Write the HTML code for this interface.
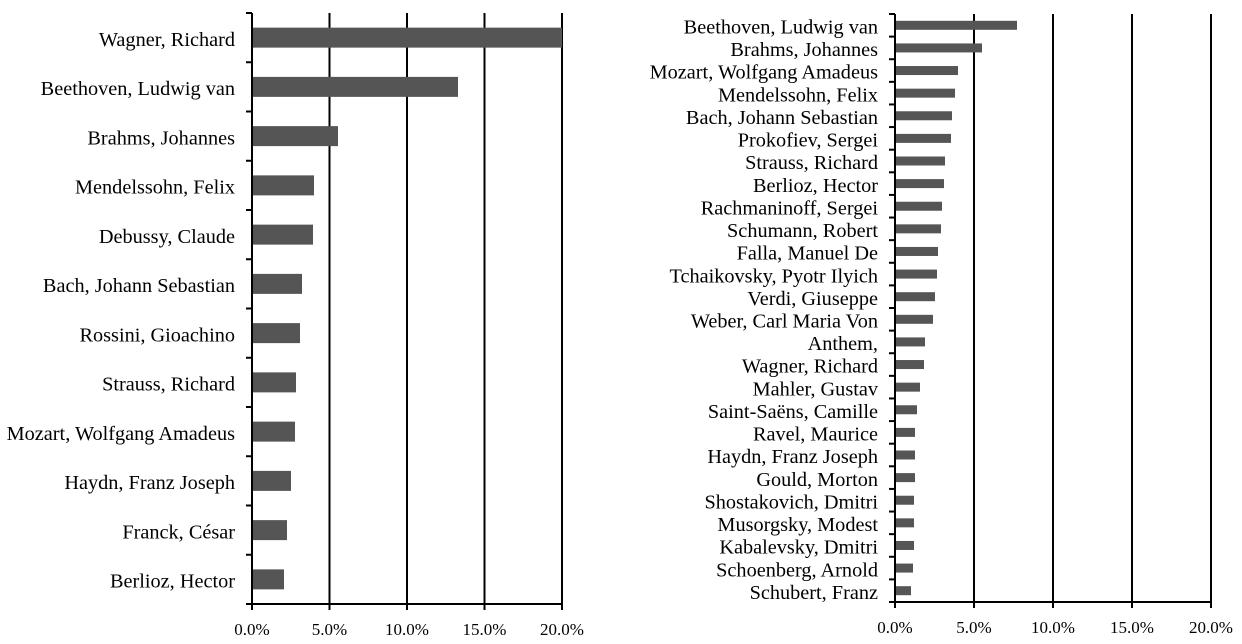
<!DOCTYPE html>
<html><head><meta charset="utf-8"><style>
html,body{margin:0;padding:0;background:#fff}
svg{display:block}
text{font-family:"Liberation Serif",serif;fill:#000}
</style></head><body>
<svg width="1242" height="644" xmlns="http://www.w3.org/2000/svg">
<g id="L"></g><g id="R"></g>
</svg>
<script>
function draw(gid,x0,x20,top,bot,names,ends,bh,fs){
 const g=document.getElementById(gid);let s='';
 const n=names.length,step=(bot-top)/n,dx=(x20-x0)/4;
 for(let i=1;i<=4;i++){const x=x0+dx*i;s+=`<line x1="${x}" y1="${top}" x2="${x}" y2="${bot}" stroke="#000" stroke-width="2"/>`;}
 for(let i=0;i<n;i++){const c=top+step*(i+.5);
  s+=`<rect x="${x0}" y="${c-bh/2}" width="${ends[i]-x0}" height="${bh}" fill="#555"/>`;
  s+=`<text x="${x0-17}" y="${c+fs*0.33+1.5}" font-size="${fs}" text-anchor="end">${names[i]}</text>`;}
 for(let i=0;i<=n;i++){const y=top+step*i;s+=`<line x1="${x0-6}" y1="${y}" x2="${x0}" y2="${y}" stroke="#000" stroke-width="2"/>`;}
 s+=`<line x1="${x0}" y1="${top}" x2="${x0}" y2="${bot}" stroke="#000" stroke-width="2"/>`;
 s+=`<line x1="${x0}" y1="${bot}" x2="${x20}" y2="${bot}" stroke="#000" stroke-width="2"/>`;
 const lb=['0.0%','5.0%','10.0%','15.0%','20.0%'];
 for(let i=0;i<=4;i++){const x=x0+dx*i;s+=`<line x1="${x}" y1="${bot}" x2="${x}" y2="${bot+6}" stroke="#000" stroke-width="2"/><text x="${x}" y="${bot+31}" font-size="17" text-anchor="middle">${lb[i]}</text>`;}
 g.innerHTML=s;
}
draw('L',252,562,13,604,["Wagner, Richard","Beethoven, Ludwig van","Brahms, Johannes","Mendelssohn, Felix","Debussy, Claude","Bach, Johann Sebastian","Rossini, Gioachino","Strauss, Richard","Mozart, Wolfgang Amadeus","Haydn, Franz Joseph","Franck, César","Berlioz, Hector"],
[562,458,338,314,313,302,300,296,295,291,287,284],20,20.3);
draw('R',895,1211,14,602,["Beethoven, Ludwig van","Brahms, Johannes","Mozart, Wolfgang Amadeus","Mendelssohn, Felix","Bach, Johann Sebastian","Prokofiev, Sergei","Strauss, Richard","Berlioz, Hector","Rachmaninoff, Sergei","Schumann, Robert","Falla, Manuel De","Tchaikovsky, Pyotr Ilyich","Verdi, Giuseppe","Weber, Carl Maria Von","Anthem,","Wagner, Richard","Mahler, Gustav","Saint-Saëns, Camille","Ravel, Maurice","Haydn, Franz Joseph","Gould, Morton","Shostakovich, Dmitri","Musorgsky, Modest","Kabalevsky, Dmitri","Schoenberg, Arnold","Schubert, Franz"],
[1017,982,958,955,952,951,945,944,942,941,938,937,935,933,925,924,920,917,915,915,915,914,914,914,913,911],9,20.3);
</script>
</body></html>
